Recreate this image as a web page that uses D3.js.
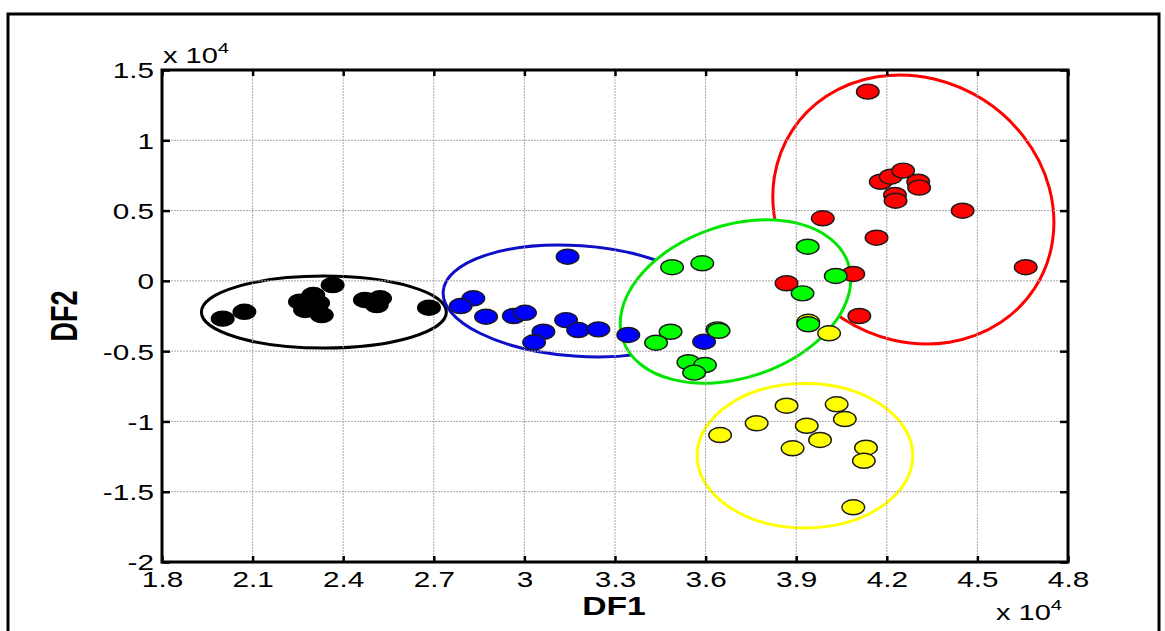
<!DOCTYPE html>
<html>
<head>
<meta charset="utf-8">
<script src="https://cdn.jsdelivr.net/npm/d3@7"></script>
<style>
  body { margin: 0; background: #fff; }
  text { font-family: Arial, "Liberation Sans", Helvetica, sans-serif; }
</style>
</head>
<body>
<div id="chart"></div>
<script>
// ------------------------------------------------------------------------ //
// DATA  (DF1, DF2 scores, raw units)
// ------------------------------------------------------------------------ //

var xTicks = [18000, 21000, 24000, 27000, 30000, 33000, 36000, 39000, 42000, 45000, 48000]
var yTicks = [-20000, -15000, -10000, -5000, 0, 5000, 10000, 15000]

var blackPts = [[20010,-2690],[20730,-2200],[22570,-1480],[23010,-1010],[23650,-300],
  [22740,-2070],[23290,-2430],[22960,-1840],[23170,-1580],[24720,-1360],[25220,-1240],
  [25110,-1720],[26840,-1910]]
var bluePts = [[31430,1720],[28310,-1240],[27890,-1790],[28730,-2550],[29650,-2500],
  [30020,-2270],[30630,-3620],[30320,-4370],[31380,-2790],[31780,-3500],[32450,-3450],
  [33440,-3850],[35950,-4330]]
var yellowPts = [[38680,-8880],[40340,-8780],[40610,-9830],[37690,-10130],[39350,-10310],
  [36480,-10970],[39790,-11320],[38880,-11910],[41310,-11870],[41240,-12800],
  [40890,-16110],[40090,-3730],[39400,-2910]]
var redPts = [[41370,13460],[41800,7050],[42130,7410],[42540,7840],[43040,7050],
  [43070,6630],[42270,6110],[42290,5700],[44510,4990],[39880,4450],[41660,3070],
  [46600,970],[40890,490],[38680,-170],[41090,-2500]]
var greenPts = [[34890,970],[35890,1250],[34840,-3620],[34360,-4400],[36390,-3450],
  [36430,-3550],[35430,-5790],[35980,-5990],[35620,-6530],[39380,2430],[40310,350],
  [39210,-890],[39400,-3090]]

// group ellipses: centre, semi-axes (data units), tilt (degrees)
var ellipseGroup = ["black", "blue", "red", "yellow", "green"]
var ellipseCx    = [23360, 31770, 42880, 39290, 36990]
var ellipseCy    = [-2220, -1430, 5080, -12440, -1470]
var ellipseRx    = [4056, 4470, 4790, 3570, 3940]
var ellipseRy    = [2561, 3930, 9255, 5140, 5420]
var ellipseTilt  = [0, 4, 32.8, 0, -18.8]

// ------------------------------------------------------------------------ //
// SVG AREA
// ------------------------------------------------------------------------ //

var W = 1165, H = 631
var margin = {top: 70, right: 97, bottom: 69, left: 162},
  width = W - margin.left - margin.right,
  height = H - margin.top - margin.bottom;

var svg = d3.select("#chart")
.append("svg")
  .attr("width", W)
  .attr("height", H)

// outer figure frame
svg.append("rect")
  .attr("x", 8).attr("y", 14)
  .attr("width", 1151).attr("height", 660)
  .attr("fill", "none")
  .attr("stroke", "#000")
  .attr("stroke-width", 3)

var g = svg.append("g")
  .attr("transform", "translate(" + margin.left + "," + margin.top + ")");

var x = d3.scaleLinear().domain([18000, 48000]).range([0, width])
var y = d3.scaleLinear().domain([-20000, 15000]).range([height, 0])

var SX = 1.35 // horizontal stretch of the source figure
var fmt = function(v){ return String(+(v / 1e4).toFixed(1)) }

// ------------------------------------------------------------------------ //
// ELLIPSES
// ------------------------------------------------------------------------ //

var lineColor = {black: "#000", blue: "#0f0fc8", red: "#ff0000", yellow: "#ffff00", green: "#00e600"}

ellipseGroup.forEach(function(k, i){
  var cx = x(ellipseCx[i]), cy = y(ellipseCy[i])
  g.append("ellipse")
    .attr("cx", cx)
    .attr("cy", cy)
    .attr("rx", x(ellipseCx[i] + ellipseRx[i]) - cx)
    .attr("ry", cy - y(ellipseCy[i] + ellipseRy[i]))
    .attr("transform", "rotate(" + ellipseTilt[i] + "," + cx + "," + cy + ")")
    .attr("fill", k == "green" ? "#fff" : "none")
    .attr("stroke", lineColor[k])
    .attr("stroke-width", 3)
})

// ------------------------------------------------------------------------ //
// GRID
// ------------------------------------------------------------------------ //

g.selectAll(".vgrid")
  .data(xTicks.slice(1, -1))
  .enter()
  .append("line")
    .attr("x1", function(d){ return x(d) }).attr("x2", function(d){ return x(d) })
    .attr("y1", 0).attr("y2", height)
    .attr("stroke", "#a8a8a8").attr("stroke-width", 1)
    .attr("stroke-dasharray", "2,1")

g.selectAll(".hgrid")
  .data(yTicks.slice(1, -1))
  .enter()
  .append("line")
    .attr("y1", function(d){ return y(d) }).attr("y2", function(d){ return y(d) })
    .attr("x1", 0).attr("x2", width)
    .attr("stroke", "#a8a8a8").attr("stroke-width", 1)
    .attr("stroke-dasharray", "2,1")

// ------------------------------------------------------------------------ //
// POINTS
// ------------------------------------------------------------------------ //

function drawPts(pts, fill, stroke){
  g.append("g")
    .selectAll("ellipse")
    .data(pts)
    .enter()
    .append("ellipse")
      .attr("cx", function(d){ return x(d[0]) })
      .attr("cy", function(d){ return y(d[1]) })
      .attr("rx", 11.3)
      .attr("ry", 7.5)
      .attr("fill", fill)
      .attr("stroke", stroke)
      .attr("stroke-width", 1.4)
}
drawPts(blackPts, "#000", "#000")
drawPts(bluePts, "#0000ff", "#1a1a1a")
drawPts(yellowPts, "#ffff00", "#1a1a1a")
drawPts(redPts, "#ff0000", "#1a1a1a")
drawPts(greenPts, "#00ff00", "#1a1a1a")

// ------------------------------------------------------------------------ //
// AXES
// ------------------------------------------------------------------------ //

var xAxis = g.append("g")
  .attr("transform", "translate(0," + height + ")")
  .call(d3.axisBottom(x).tickValues(xTicks).tickSizeInner(-6).tickSizeOuter(0).tickFormat(fmt))
xAxis.selectAll("text")
  .attr("y", null).attr("dy", null)
  .attr("fill", "#000")
  .style("font-size", "22px")
  .attr("transform", "translate(0,25) scale(" + SX + ",1)")

var yAxis = g.append("g")
  .call(d3.axisLeft(y).tickValues(yTicks).tickSizeInner(-8).tickSizeOuter(0).tickFormat(fmt))
yAxis.selectAll("text")
  .attr("x", null).attr("dy", "0.36em")
  .attr("fill", "#000")
  .style("font-size", "22px")
  .attr("transform", "translate(-8,0) scale(" + SX + ",1)")

g.append("g")
  .call(d3.axisTop(x).tickValues(xTicks).tickSizeInner(-6).tickSizeOuter(0).tickFormat(""))
g.append("g")
  .attr("transform", "translate(" + width + ",0)")
  .call(d3.axisRight(y).tickValues(yTicks).tickSizeInner(-8).tickSizeOuter(0).tickFormat(""))

g.selectAll(".domain").remove()
g.selectAll(".tick line").attr("stroke", "#000").attr("stroke-width", 2.5)

// axes box
g.append("rect")
  .attr("x", 0).attr("y", 0)
  .attr("width", width).attr("height", height)
  .attr("fill", "none")
  .attr("stroke", "#000")
  .attr("stroke-width", 3)

// exponent labels
function expLabel(px, py){
  var t = svg.append("text")
    .attr("transform", "translate(" + px + "," + py + ") scale(" + SX + ",1)")
    .style("font-size", "21.5px")
    .attr("fill", "#000")
  t.append("tspan").text("x 10")
  t.append("tspan").attr("dy", -10).style("font-size", "15px").text("4")
}
expLabel(163, 63)
expLabel(996, 620)

// axis titles
svg.append("text")
  .attr("transform", "translate(614,615) scale(" + SX + ",1)")
  .attr("text-anchor", "middle")
  .style("font-size", "25px")
  .style("font-weight", "bold")
  .text("DF1")

svg.append("text")
  .attr("transform", "translate(77,316) scale(" + SX + ",1) rotate(-90)")
  .attr("text-anchor", "middle")
  .style("font-size", "27px")
  .style("font-weight", "bold")
  .text("DF2")
</script>
</body>
</html>
